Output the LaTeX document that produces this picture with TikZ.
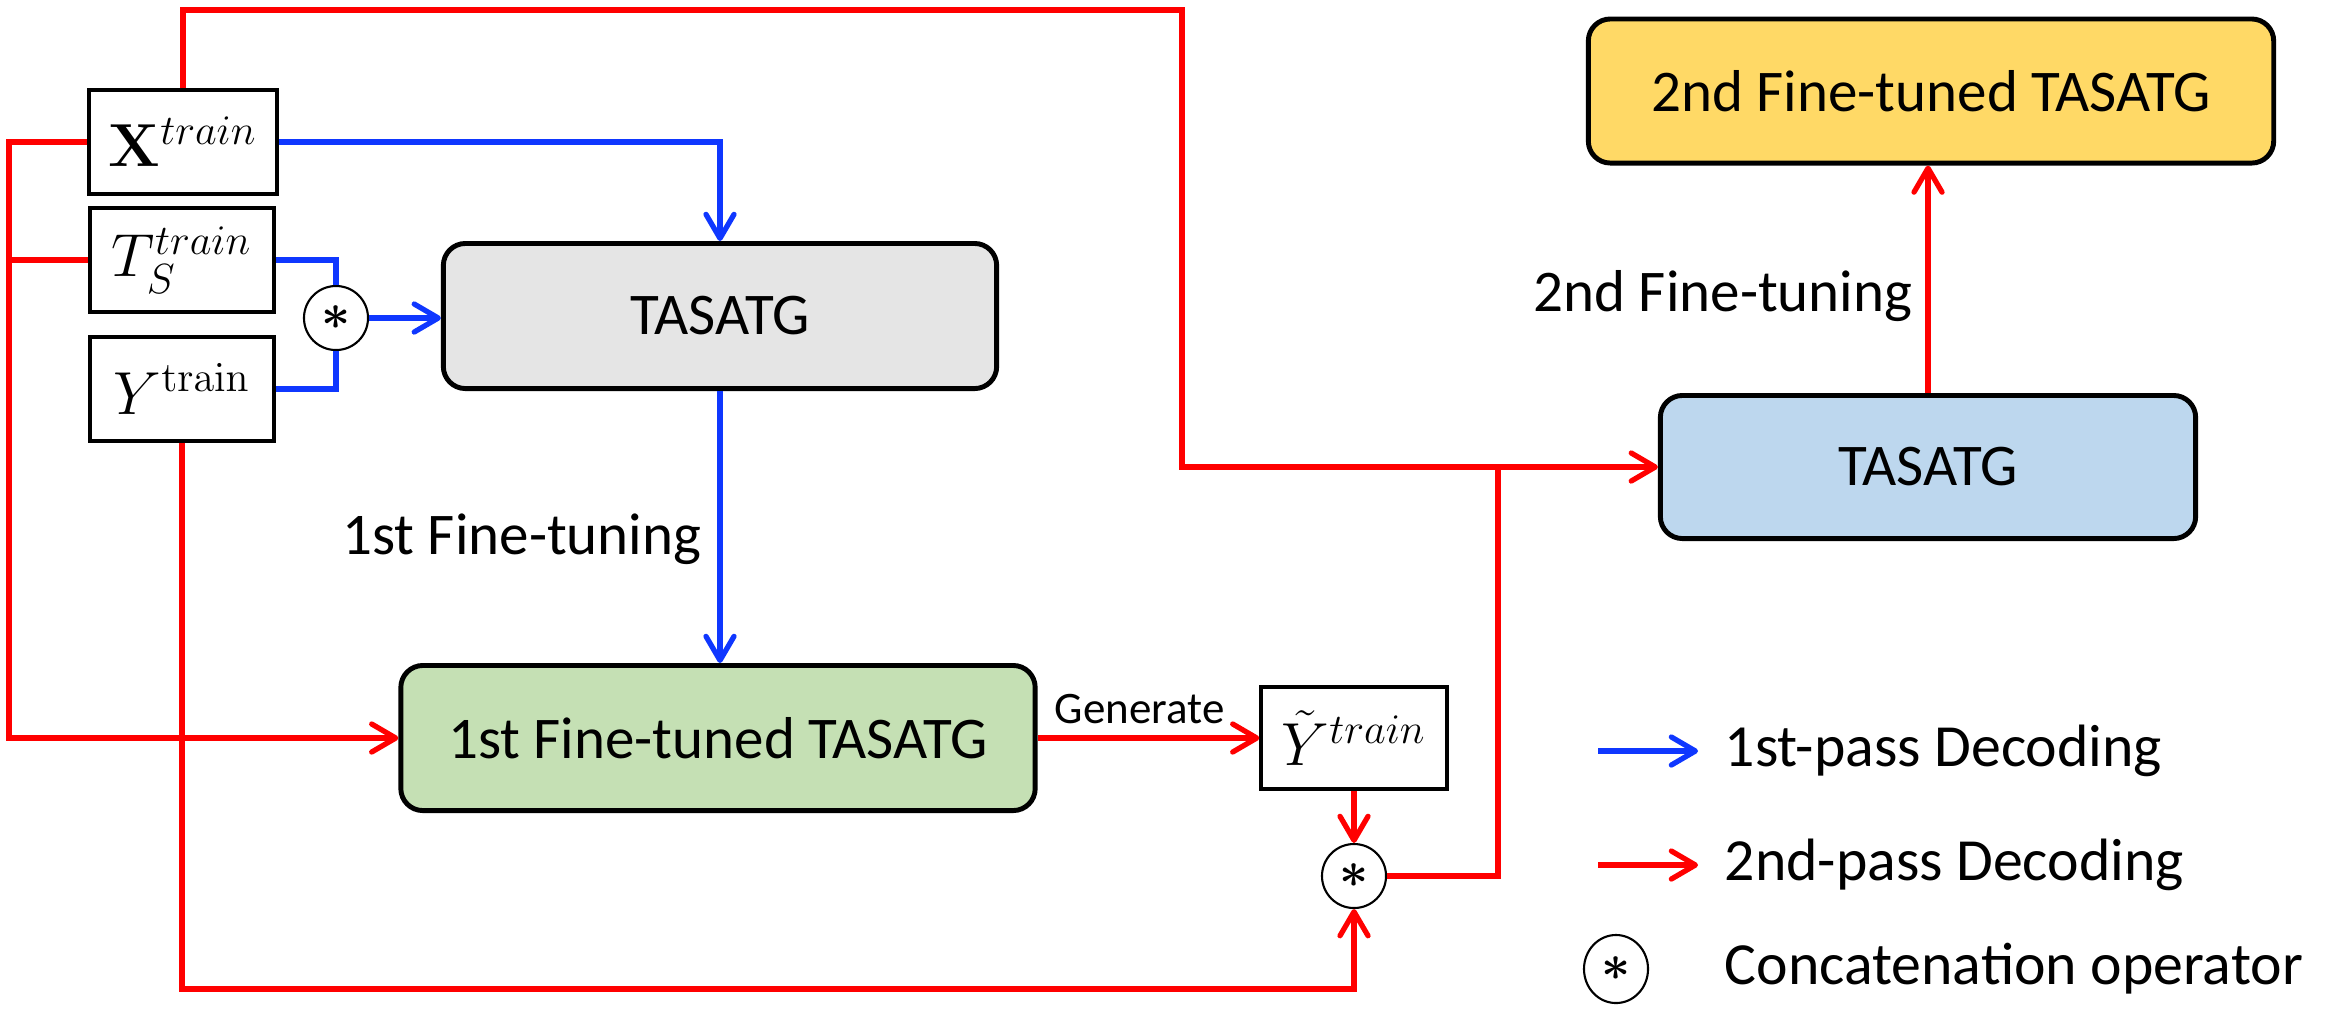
\documentclass[tikz,border=0pt]{standalone}
\usepackage{amsmath}
\usepackage[no-math]{fontspec}
\setmainfont{Carlito}
\usetikzlibrary{arrows.meta,calc,shapes.geometric}
\definecolor{rd}{RGB}{255,0,0}
\definecolor{bl}{RGB}{15,55,255}
\definecolor{greyfill}{RGB}{229,229,229}
\definecolor{greenfill}{RGB}{197,224,180}
\definecolor{bluefill}{RGB}{189,215,238}
\definecolor{yellowfill}{RGB}{255,217,102}
\begin{document}
\begin{tikzpicture}[x=0.01cm,y=-0.01cm,
  inbox/.style={draw,line width=0.9pt,inner sep=0pt,font=\fontsize{17.5}{20}\selectfont},
  model/.style={draw,line width=1.4pt,rounded corners=0.22cm,inner sep=0pt,font=\fontsize{16.8}{20}\selectfont},
  catop/.style={draw,circle,line width=0.6pt,minimum size=0.64cm,inner sep=0pt,font=\fontsize{14}{14}\selectfont},
  redl/.style={draw=rd,line width=1.5pt},
  bluel/.style={draw=bl,line width=1.5pt},
  arrowed/.style={-{Straight Barb[length=0.24cm,width=0.28cm,round]}},
  lab/.style={font=\fontsize{16.8}{20}\selectfont,inner sep=0pt},
  leg/.style={font=\fontsize{17}{20}\selectfont,inner sep=0pt,anchor=west}]
\useasboundingbox (0,0) rectangle (2346,1035);

% input boxes
\node[inbox,minimum width=1.88cm,minimum height=1.04cm] (X) at (183,142) {$\mathbf{X}^{train}$};
\node[inbox,minimum width=1.84cm,minimum height=1.04cm] (T) at (182,260) {$T_S^{train}$};
\node[inbox,minimum width=1.84cm,minimum height=1.04cm] (Y) at (182,389) {$Y^{\mathrm{train}}$};
\node[catop] (c1) at (336,318) {$\boldsymbol{\ast}$};

% models
\node[model,fill=greyfill,minimum width=5.53cm,minimum height=1.45cm] (g) at (720,316) {TASATG};
\node[model,fill=greenfill,minimum width=6.34cm,minimum height=1.45cm] (f1) at (718,738) {1st Fine-tuned TASATG};
\node[inbox,minimum width=1.86cm,minimum height=1.02cm] (Yt) at (1354,738) {$\tilde{Y}^{train}$};
\node[catop] (c2) at (1354,876) {$\boldsymbol{\ast}$};
\node[model,fill=bluefill,minimum width=5.35cm,minimum height=1.43cm] (b) at (1928,467) {TASATG};
\node[model,fill=yellowfill,minimum width=6.85cm,minimum height=1.44cm] (f2) at (1931,91) {2nd Fine-tuned TASATG};

% labels
\node[lab] (l1) at (522,539) {1st Fine-tuning};
\node[lab] (l2) at (1723,296) {2nd Fine-tuning};

% helper coordinates
\coordinate (tr) at (1182,10);
\coordinate (jn) at (1182,467);
\coordinate (lft) at (9,143);
\coordinate (bot) at (182,989);
\coordinate (jx) at (1498,876);

% blue connectors (1st pass)
\draw[bluel,arrowed] (X.east) -| (g.north);
\draw[bluel] (T.east) -| (c1.north);
\draw[bluel] (Y.east) -| (c1.south);
\draw[bluel,arrowed] (c1.east) -- (c1.east -| g.west);
\draw[bluel,arrowed] (g.south) -- (g.south |- f1.north);

% red connectors (2nd pass)
\draw[redl,arrowed] (X.north) |- (tr) -- (jn) -- (b.west);
\draw[redl,arrowed] (X.west) -- (X.west -| lft) |- (f1.west);
\draw[redl] (T.west) -- (T.west -| lft);
\draw[redl,arrowed] (Y.south) -- (Y.south |- bot) -| (c2.south);
\draw[redl,arrowed] (f1.east) -- (Yt.west) node[pos=0.46,above=0.12cm,font=\fontsize{12.8}{15}\selectfont,inner sep=0pt] {Generate};
\draw[redl,arrowed] (Yt.south) -- (c2.north);
\draw[redl] (c2.east) -- (jx) -- (jx |- b.west);
\draw[redl,arrowed] (b.north) -- (b.north |- f2.south);

% legend
\coordinate (la1) at (1598,751);
\coordinate (lb1) at (1698,751);
\coordinate (la2) at (1598,865);
\coordinate (lb2) at (1698,865);
\draw[bluel,arrowed] (la1) -- (lb1);
\draw[redl,arrowed] (la2) -- (lb2);
\node[catop,ellipse,minimum width=0.64cm,minimum height=0.68cm] (c3) at (1616,969) {$\boldsymbol{\ast}$};
\node[leg] (t1) at (1724,751) {1st-pass Decoding};
\node[leg] (t2) at (1724,865) {2nd-pass Decoding};
\node[leg] (t3) at (1724,969) {Concatenation operator};
\end{tikzpicture}
\end{document}
